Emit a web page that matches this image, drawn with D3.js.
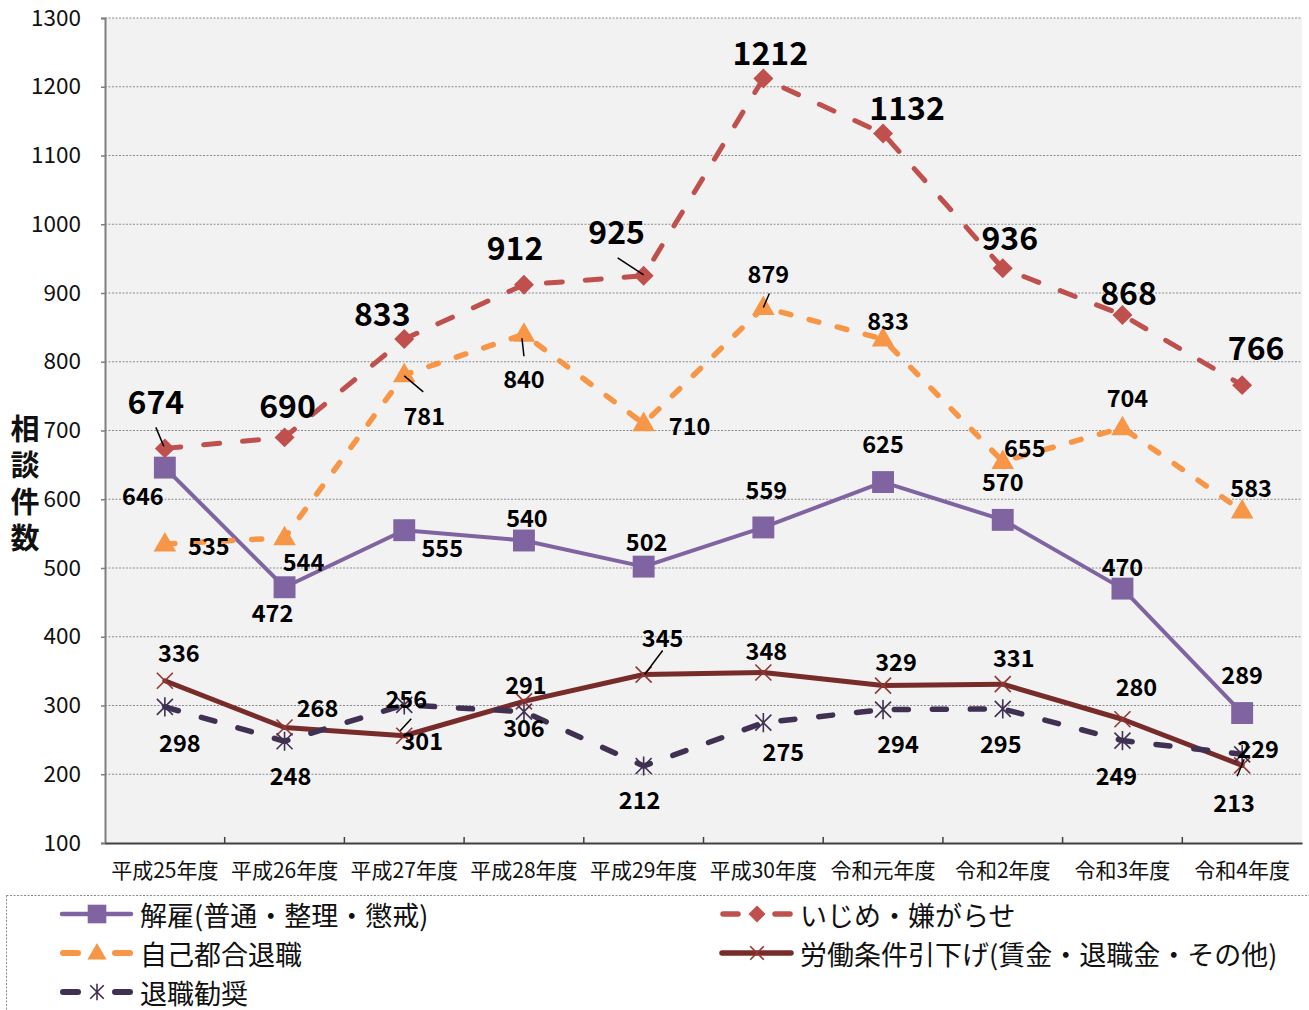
<!DOCTYPE html>
<html>
<head>
<meta charset="utf-8">
<script src="https://cdn.jsdelivr.net/npm/d3@7"></script>
<style>
  body { margin: 0; background: #fff; }
  text { font-family: "Noto Sans CJK JP", "Noto Sans", sans-serif; }
</style>
</head>
<body>
<div id="chart"></div>
<script>
// categories / values
const years = ['平成25年度', '平成26年度', '平成27年度', '平成28年度', '平成29年度',
  '平成30年度', '令和元年度', '令和2年度', '令和3年度', '令和4年度']
const dismissal = [646, 472, 555, 540, 502, 559, 625, 570, 470, 289]
const bullying = [674, 690, 833, 912, 925, 1212, 1132, 936, 868, 766]
const voluntary = [535, 544, 781, 840, 710, 879, 833, 655, 704, 583]
const conditions = [336, 268, 256, 306, 345, 348, 329, 331, 280, 213]
const retirement = [298, 248, 301, 291, 212, 275, 294, 295, 249, 229]
const yTicks = [100, 200, 300, 400, 500, 600, 700, 800, 900, 1000, 1100, 1200, 1300]

// label offsets from each point (manual placement like the original)
const labelOffsets = {
  dismissal: [[-22, 27], [-12, 25], [38, 17], [3, -24], [3, -26], [3, -38], [0, -39], [0, -39], [0, -23], [0, -39]],
  bullying: [[-9, -48], [3, -33], [-22, -27], [-9, -39], [-27, -46], [7, -28], [24, -28], [7, -32], [6, -24], [14, -39]],
  voluntary: [[44, 1], [19, 23], [20, 40], [0, 44], [46, 1], [5, -34], [5, -19], [22, -14], [5, -31], [9, -24]],
  conditions: [[14, -29], [33, -21], [2, -38], [0, 26], [19, -38], [3, -23], [13, -25], [11, -27], [14, -33], [-8, 37]],
  retirement: [[15, 35], [6, 34], [18, 35], [2, -28], [-4, 33], [20, 28], [15, 33], [-2, 34], [-6, 34], [16, -6]]
}
const leaders = [
  { key: 'bullying', i: 0, from: [-9, -21], to: [-1, -2] },
  { key: 'bullying', i: 4, from: [-26, -18], to: [0, -1] },
  { key: 'voluntary', i: 2, from: [0, 1], to: [19, 17] },
  { key: 'voluntary', i: 3, from: [-2, 4], to: [0, 22] },
  { key: 'voluntary', i: 5, from: [6, -14], to: [0, 0] },
  { key: 'conditions', i: 2, from: [7, -17], to: [-4, -5] },
  { key: 'conditions', i: 4, from: [19, -24], to: [1, 0] },
  { key: 'conditions', i: 9, from: [2, -6], to: [-5, 11] }
]

const series = [
  { key: 'dismissal', name: '解雇(普通・整理・懲戒)', values: dismissal, color: '#8064a2', width: 4, dash: null, marker: 'square', big: false },
  { key: 'bullying', name: 'いじめ・嫌がらせ', values: bullying, color: '#c0504d', width: 5, dash: '16,23', marker: 'diamond', big: true },
  { key: 'voluntary', name: '自己都合退職', values: voluntary, color: '#f79646', width: 5.5, dash: '10,19', marker: 'triangle', big: false },
  { key: 'conditions', name: '労働条件引下げ(賃金・退職金・その他)', values: conditions, color: '#772c2a', width: 5, dash: null, marker: 'x', big: false },
  { key: 'retirement', name: '退職勧奨', values: retirement, color: '#403152', width: 5.5, dash: '14,24', marker: 'star', big: false }
]

const width = 1309
const height = 1010
const plot = { left: 105, right: 1302, top: 18, bottom: 843 }

const svg = d3.select('#chart')
  .append('svg')
  .attr('width', width)
  .attr('height', height)

const x = d3.scaleBand()
  .domain(years)
  .range([plot.left, plot.right])
const cx = d => x(d) + x.bandwidth() / 2
const y = d3.scaleLinear()
  .domain([100, 1300])
  .range([plot.bottom, plot.top])

// plot background
svg.append('rect')
  .attr('x', plot.left)
  .attr('y', plot.top)
  .attr('width', plot.right - plot.left)
  .attr('height', plot.bottom - plot.top)
  .attr('fill', '#f2f2f2')

// grid lines
svg.append('g')
  .selectAll('line')
  .data(yTicks.slice(1))
  .enter()
  .append('line')
  .attr('x1', plot.left)
  .attr('x2', plot.right)
  .attr('y1', d => y(d))
  .attr('y2', d => y(d))
  .attr('stroke', '#8c8c8c')
  .attr('stroke-width', 1)
  .attr('stroke-dasharray', '2,1.5')

// y axis
const yAxis = svg.append('g')
  .attr('transform', `translate(${plot.left},0)`)
  .call(d3.axisLeft(y).tickValues(yTicks).tickFormat(d3.format('d')).tickSize(4).tickPadding(20))
yAxis.select('.domain').attr('stroke', '#7f7f7f').attr('stroke-width', 2)
yAxis.selectAll('.tick line').attr('stroke', '#7f7f7f').attr('stroke-width', 1.5)
yAxis.selectAll('.tick text')
  .attr('font-size', 22.5)
  .attr('fill', '#111')
  .style('font-family', '"Noto Sans CJK JP", sans-serif')

// x axis
const xAxis = svg.append('g')
  .attr('transform', `translate(0,${plot.bottom})`)
  .call(d3.axisBottom(x).tickSize(0).tickPadding(20))
xAxis.select('.domain').attr('stroke', '#404040').attr('stroke-width', 2)
xAxis.selectAll('.tick text')
  .attr('font-size', 21)
  .attr('fill', '#111')
  .style('font-family', '"Noto Sans CJK JP", sans-serif')
xAxis.append('g')
  .selectAll('line')
  .data(years.slice(1))
  .enter()
  .append('line')
  .attr('x1', d => x(d))
  .attr('x2', d => x(d))
  .attr('y1', -6)
  .attr('y2', 0)
  .attr('stroke', '#404040')
  .attr('stroke-width', 1.5)

// y axis title, vertical writing
svg.append('text')
  .attr('x', 25)
  .attr('y', 414)
  .attr('font-size', 29)
  .attr('font-weight', 'bold')
  .attr('fill', '#111')
  .style('writing-mode', 'vertical-rl')
  .style('letter-spacing', '7.5px')
  .text('相談件数')

// markers
function drawMarker (g, type, color, px, py, scale) {
  const s = scale || 1
  if (type === 'square') {
    g.append('path')
      .attr('d', d3.symbol(d3.symbolSquare, 480 * s * s)())
      .attr('transform', `translate(${px},${py})`)
      .attr('fill', color)
  } else if (type === 'diamond') {
    g.append('path')
      .attr('d', d3.symbol(d3.symbolSquare, 200 * s * s)())
      .attr('transform', `translate(${px},${py}) rotate(45)`)
      .attr('fill', color)
  } else if (type === 'triangle') {
    g.append('path')
      .attr('d', d3.symbol(d3.symbolTriangle, 220 * s * s)())
      .attr('transform', `translate(${px},${py + 1})`)
      .attr('fill', color)
  } else {
    const r = 8 * s
    const p = d3.path()
    p.moveTo(px - r, py - r); p.lineTo(px + r, py + r)
    p.moveTo(px - r, py + r); p.lineTo(px + r, py - r)
    if (type === 'star') {
      p.moveTo(px, py - r * 1.2); p.lineTo(px, py + r * 1.2)
    }
    g.append('path')
      .attr('d', p.toString())
      .attr('stroke', type === 'x' ? '#943634' : color)
      .attr('stroke-width', 1.6)
      .attr('fill', 'none')
  }
}

const line = d3.line()
  .x((d, i) => cx(years[i]))
  .y(d => y(d))

series.forEach(s => {
  const g = svg.append('g')
  g.append('path')
    .datum(s.values)
    .attr('d', line)
    .attr('fill', 'none')
    .attr('stroke', s.color)
    .attr('stroke-width', s.width)
    .attr('stroke-linejoin', 'round')
    .attr('stroke-linecap', 'round')
    .attr('stroke-dasharray', s.dash)
  s.values.forEach((v, i) => drawMarker(g, s.marker, s.color, cx(years[i]), y(v)))
})

// leader lines
const seriesByKey = {}
series.forEach(s => { seriesByKey[s.key] = s })
svg.append('g')
  .selectAll('line')
  .data(leaders)
  .enter()
  .append('line')
  .attr('x1', d => cx(years[d.i]) + d.from[0])
  .attr('y1', d => y(seriesByKey[d.key].values[d.i]) + d.from[1])
  .attr('x2', d => cx(years[d.i]) + d.to[0])
  .attr('y2', d => y(seriesByKey[d.key].values[d.i]) + d.to[1])
  .attr('stroke', '#000')
  .attr('stroke-width', 1.5)

// data labels
series.forEach(s => {
  svg.append('g')
    .selectAll('text')
    .data(s.values)
    .enter()
    .append('text')
    .attr('x', (d, i) => cx(years[i]) + labelOffsets[s.key][i][0])
    .attr('y', (d, i) => y(d) + labelOffsets[s.key][i][1])
    .attr('text-anchor', 'middle')
    .attr('dominant-baseline', 'central')
    .attr('font-size', s.big ? 32 : 23.5)
    .attr('font-weight', 'bold')
    .attr('fill', '#000')
    .text(d => d)
})

// legend
svg.append('rect')
  .attr('x', 6.5)
  .attr('y', 895.5)
  .attr('width', 1320)
  .attr('height', 130)
  .attr('fill', 'none')
  .attr('stroke', '#8c8c8c')
  .attr('stroke-width', 1)
  .attr('stroke-dasharray', '2,1.5')

const legendPos = [[60, 914], [720, 914], [60, 953], [720, 953], [60, 992]]
series.forEach((s, k) => {
  const [lx, ly] = legendPos[k]
  const g = svg.append('g')
  if (s.dash) {
    g.append('line').attr('x1', lx + 3).attr('x2', lx + 18).attr('y1', ly).attr('y2', ly)
      .attr('stroke', s.color).attr('stroke-width', s.width + 0.5).attr('stroke-linecap', 'round')
    g.append('line').attr('x1', lx + 55).attr('x2', lx + 70).attr('y1', ly).attr('y2', ly)
      .attr('stroke', s.color).attr('stroke-width', s.width + 0.5).attr('stroke-linecap', 'round')
  } else {
    g.append('line').attr('x1', lx + 2).attr('x2', lx + 71).attr('y1', ly).attr('y2', ly)
      .attr('stroke', s.color).attr('stroke-width', s.width + 0.5).attr('stroke-linecap', 'round')
  }
  drawMarker(g, s.marker, s.color, lx + 37, ly, 0.85)
  g.append('text')
    .attr('x', lx + 80)
    .attr('y', ly)
    .attr('dominant-baseline', 'central')
    .attr('font-size', 27)
    .attr('fill', '#111')
    .text(s.name)
})
</script>
</body>
</html>
